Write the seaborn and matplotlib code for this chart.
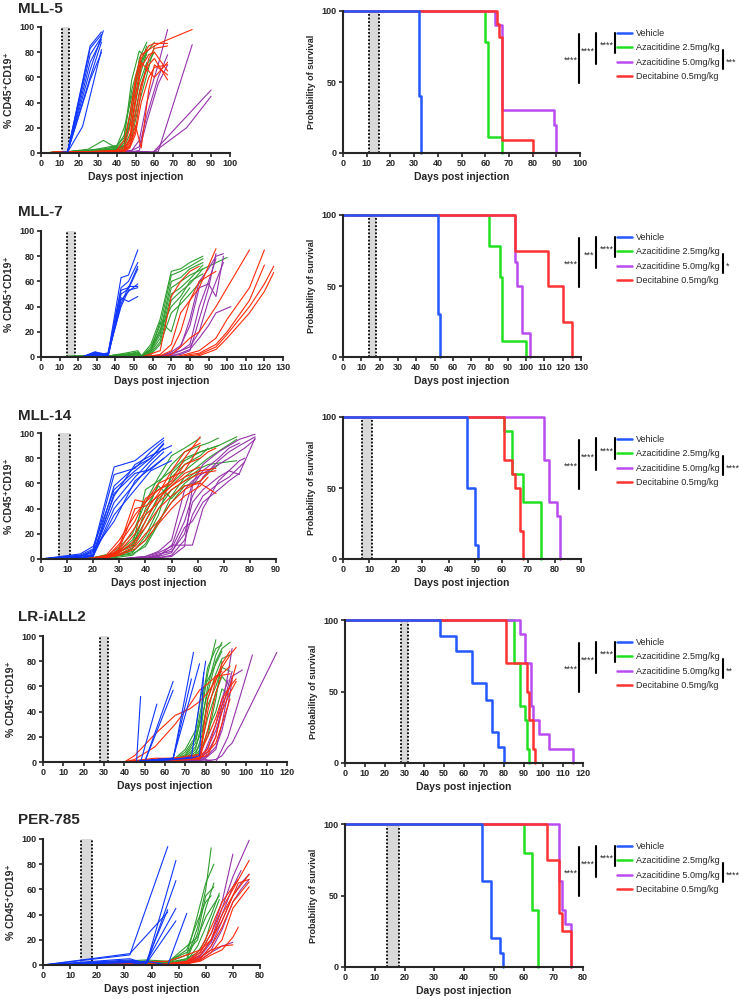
import numpy as np
import pandas as pd
import seaborn as sns
import matplotlib.pyplot as plt
from matplotlib.lines import Line2D

# ====================== GROUPS / COLOURS ======================
groups = ["Vehicle", "Azacitidine 2.5mg/kg", "Azacitidine 5.0mg/kg", "Decitabine 0.5mg/kg"]
line_colors = ["#1036FF", "#2E9E2E", "#9532AA", "#FF2A0A"]     # spaghetti plots
surv_colors = ["#2457FF", "#22E022", "#B94CF0", "#FF3333"]     # survival curves
draw_order = [groups[1], groups[2], groups[3], groups[0]]

# ====================== MLL-5 ======================
mll5_veh_days = [0, 14, 22, 26, 32, 33]
mll5_veh = [[0, 0.5, None, 85, 96], [0, 0.5, None, 83, 94], [0, 0.5, None, 78, 92],
            [0, 0.5, None, 72, 90], [0, 0.5, None, 66, None, 97], [0, 0.5, None, 60, 88],
            [0, 0.5, None, 58, 80], [0, 0.5, 21, None, 82]]
mll5_az25_days = [0, 14, 25, 33, 40, 44, 48, 52, 56, 60]
mll5_az25 = [[0, 1, 3, 10, 4, 6, 30, 75, 88], [0, 1, 2, 4, 6, 12, 58, 81, 75],
             [0, 1, 2, 3, 5, 20, 45, 68, 85], [0, 1, 2, 2, 3, 8, 35, 60, 80, 88],
             [0, 1, 1, 2, 4, 10, 25, 55, 72], [0, 1, 2, 3, 3, 5, 18, 48, 70, 80],
             [0, 1, 1, 2, 3, 6, 40, 65, 82], [0, 1, 2, 3, 5, 14, 50, 72, 78],
             [0, 1, 2, 2, 2, 4, 12, 40, 62, 85]]
mll5_az50_days = [0, 14, 25, 40, 48, 52, 56, 59, 62, 67, 77, 80, 90]
mll5_az50 = [[0, 0.5, 1, 1, 2, 10, 40, None, 70, 98], [0, 0.5, 1, 1, 2, 5, 30, None, 60, 78],
             [0, 0.5, 1, 1, 1, 2, 25, None, 55, 70],
             [0, 0.5, 1, 1, 1, 1, 1, 0, None, None, None, None, 50],
             [0, 0.5, 1, 1, 1, 1, 1, 0, None, None, 20, None, 45],
             [0, 0.5, 1, 1, 1, 1, 1, None, 1, None, None, 86]]
mll5_dec_days = [0, 14, 25, 40, 44, 47, 50, 53, 57, 60, 64, 67, 80]
mll5_dec = [[0, 1, 1, 2, 5, 20, 55, 75, 85, 87, None, 87], [0, 1, 1, 1, 3, 10, 40, 68, 78, 80, None, 65],
            [0, 1, 1, 1, 2, 8, 30, 55, 70, 75, None, 58], [0, 1, 1, 1, 2, 5, 22, 4, 50, 70, None, 62],
            [0, 1, 1, 2, 10, 30, 60, 78, 82, 85, 88, None, 98], [0, 1, 1, 1, 3, 12, 45, 72, 65, 60, None, 72],
            [0, 1, 1, 1, 2, 6, 18, 50, 75, 83, None, 85], [0, 1, 1, 1, 1, 4, 15, 40, 60, 68, None, 70]]

# ====================== MLL-7 ======================
mll7_veh_days = [0, 22, 29, 36, 43, 47, 52]
mll7_veh = [[0, 0, 4, 2, 63, 65, 85], [0, 0, 3, 1, 55, 60, 75], [0, 0, 2, 3, 53, 55, 72],
            [0, 0, 4, 0, 50, 54, 70], [0, 0, 1, 2, 45, 52, 58], [0, 0, 3, 1, 42, 56, 56],
            [0, 0, 2, 3, 40, 53, 55], [0, 0, 1, 0, 47, 44, 48]]
mll7_az25_days = [0, 37, 45, 52, 54, 59, 64, 70, 75, 80, 87, 100]
mll7_az25 = [[0, 1, 3, 5, 1, 10, 30, 68, 70, 75, 80], [0, 1, 2, 3, 0, 8, 25, 65, 68, 72, 78],
             [0, 1, 2, 4, 1, 6, 20, 60, 63, 70, 75], [0, 1, 2, 2, 0, 5, 18, 55, 60, 65, None, 79],
             [0, 1, 1, 2, 0, 4, 15, 50, 55, 62, 73], [0, 1, 2, 3, 1, 3, 12, 45, 52, 58, 70],
             [0, 1, 2, 3, 0, 6, 22, 40, 48, 60, 66], [0, 1, 1, 2, 0, 5, 28, 20, 45, 55],
             [0, 1, 1, 1, 0, 2, 10, 35, 42, 50, 62]]
mll7_az50_days = [0, 37, 54, 65, 70, 75, 80, 85, 90, 94, 98, 102]
mll7_az50 = [[0, 0, 0, 1, 2, 8, 30, 60, 70, 80, 82], [0, 0, 0, 1, 3, 5, 10, 40, 60, 78],
             [0, 0, 0, 0, 2, 5, 8, 20, 45, 60, 75], [0, 0, 0, 0, 1, 3, 6, 15, 25, 35, None, 40],
             [0, 0, 0, 1, 4, 9, 25, 55, 58, 48, 80], [0, 0, 0, 0, 1, 2, 5, 30, 55, 82]]
mll7_dec_days = [0, 37, 54, 64, 70, 75, 80, 85, 94, 100, 112, 120, 125]
mll7_dec = [[0, 0, 0, 5, 48, 60, 68, 72], [0, 0, 0, 2, 10, 35, 45, 55, 86],
            [0, 0, 0, 1, 5, 20, 45, 60, 68], [0, 0, 0, 0, 2, 8, 15, 20, 40, 55, 85],
            [0, 0, 0, 0, 0, 1, 3, 5, 15, 30, 55, 85], [0, 0, 0, 0, 0, 0, 2, 3, 10, 20, 45, 73],
            [0, 0, 0, 0, 0, 0, 1, 2, 8, 18, 40, 58, 72], [0, 0, 0, 0, 0, 0, 0, 1, 6, 15, 35, 52, 67]]

# ====================== MLL-14 ======================
mll14_veh_days = [0, 15, 20, 28, 36, 42, 47, 50]
mll14_veh = [[0, 3, 8, 73, 78, 88, 96], [0, 2, 6, 67, 72, 85, 94], [0, 4, 10, 55, 70, 80, 92],
             [0, 2, 5, 50, 75, 82, None, 90], [0, 1, 4, 45, 65, 78, 88], [0, 3, 2, 40, 60, 75, 85],
             [0, 1, 3, 35, 55, 70, None, 78], [0, 2, 7, 30, 62, 72, 80], [0, 1, 2, 52, 68, 71, None, 85],
             [0, 0, 3, 58, 73, 80, 91]]
mll14_az25_days = [0, 20, 28, 35, 40, 45, 50, 55, 61, 64, 68, 75]
mll14_az25 = [[0, 1, 5, 20, 45, 65, 82, 88, 96], [0, 1, 3, 15, 35, 60, 75, 85, 90, 92, 96],
              [0, 1, 4, 10, 55, 62, 70, 80, 85, None, 90, 97], [0, 1, 2, 8, 25, 45, 65, 75, 82, 88],
              [0, 1, 3, 12, 30, 50, 60, 70, 80], [0, 1, 2, 5, 18, 40, 55, 62, 72, 75, None, 78],
              [0, 1, 3, 6, 15, 35, 68, 78, 85, None, 90], [0, 1, 2, 4, 10, 28, 50, 65, 75, 80, None, 95],
              [0, 1, 2, 8, 40, 58, 48, 60, 70], [0, 1, 1, 3, 12, 30, 45, 58, 62, 68, 75]]
mll14_az50_days = [0, 30, 40, 45, 50, 55, 58, 62, 68, 72, 76, 78, 82]
mll14_az50 = [[0, 0, 2, 5, 10, 40, 60, 75, 85, 90, 95, None, 99],
              [0, 0, 1, 3, 8, 30, 50, 65, 78, 85, 90, None, 97],
              [0, 0, 1, 2, 11, 11, 11, 40, 62, 70, 78, 80],
              [0, 0, 1, 4, 6, 20, 45, 55, 65, 70, 67],
              [0, 0, 2, 6, 15, 55, 62, 68, 75, 80, None, 88, 95],
              [0, 0, 1, 1, 3, 15, 35, 50, 60, 65, None, 77],
              [0, 0, 1, 2, 5, 25, 30, 45, 55, 62, 68, None, 96],
              [0, 0, 0, 1, 2, 10, 58, 70, 80, 88, 92]]
mll14_dec_days = [0, 20, 25, 30, 36, 40, 45, 50, 55, 61, 64, 67]
mll14_dec = [[0, 0, 2, 10, 47, 45, 55, 62, 80, 97], [0, 0, 1, 8, 40, 42, 50, 58, 65, 70, None, 72],
             [0, 0, 1, 12, 30, 48, 55, 60, 75, 80, 85, 88], [0, 0, 2, 6, 20, 35, 45, 55, 62, 68, None, 70],
             [0, 0, 1, 5, 15, 25, 40, 50, 58, 60, None, 52], [0, 1, 3, 15, 35, 45, 60, 65, 70, 90],
             [0, 0, 1, 4, 10, 20, 30, 45, 55, 62, 68], [0, 0, 2, 7, 25, 38, 52, 70, 85, 92],
             [0, 0, 1, 3, 8, 15, 28, 40, 50, 58, 65], [0, 0, 1, 6, 12, 30, 48, 58, 68, 73]]

# ====================== LR-iALL2 ======================
lr_veh_days = [4, 40, 46, 48, 50, 56, 64, 73, 74, 77, 79, 80]
lr_veh = [[0, 0, 0, 52], [0, 0, None, 0, None, 46], [0, 0, None, None, 0, None, 64],
          [0, 0, None, None, 0, None, 57], [0, 0, 0, 1, 1, 2, 2, None, 87],
          [0, 0, 0, 1, 1, 2, 3, 66], [0, 0, 0, 1, 1, 2, 3, None, None, 78],
          [0, 0, 0, 0, 1, 1, 2, 4, None, None, None, 80], [0, 0, 0, 0, 1, 1, 2, 3, None, 5, 71]]
lr_az25_days = [4, 40, 60, 65, 70, 75, 78, 81, 85, 88, 92]
lr_az25 = [[0, 0, 1, 2, 5, 15, 40, 70, 97], [0, 0, 1, 2, 3, 10, 30, 60, 85, 95],
           [0, 0, 1, 2, 8, 20, 45, 75, 90, 93], [0, 0, 1, 1, 3, 6, 20, 50, 70, 82, 85],
           [0, 0, 1, 3, 10, 25, 55, 65, 78, 88], [0, 0, 1, 2, 4, 12, 25, 45, 60, 75, 72],
           [0, 0, 1, 1, 2, 8, 15, 35, 55, 68, 60], [0, 0, 1, 2, 6, 18, 35, 55, 80, 90, 95],
           [0, 0, 1, 1, 2, 4, 10, 25, 40, 58, 53], [0, 0, 1, 2, 3, 5, 12, 20, 50, 80]]
lr_az50_days = [4, 40, 70, 77, 80, 85, 88, 91, 93, 98, 103, 115]
lr_az50 = [[0, 0, 1, 2, 10, 30, 50, 65], [0, 0, 1, 2, 5, 20, 45, 70, 90],
           [0, 0, 1, 1, 3, 10, 30, 55, 68, 73], [0, 0, 0, 1, 2, 0, 10, 20, None, None, 85],
           [0, 0, 0, 0, 1, 2, 5, 12, 15, None, None, 87], [0, 0, 1, 2, 8, 25, 40, 60, 72],
           [0, 0, 1, 1, 4, 12, 25, 45, 65]]
lr_dec_days = [4, 40, 45, 55, 65, 72, 77, 81, 85, 88, 92, 95]
lr_dec = [[0, 0, 5, 22, 37, 42, 48, 55, 65, 75, 85, 91], [0, 0, 2, 12, 30, 45, 57, 62, 68, None, 70],
          [0, 0, 1, 3, 3, 4, 3, 40, 65, 78, 88], [0, 0, 1, 2, 3, 3, 2, 25, 55, 70, 76],
          [0, 0, 0, 2, 3, 5, 6, 20, 35, 50, 60, 77], [0, 0, 1, 2, 3, 4, 5, 10, 30, 45, 60, 66],
          [0, 0, 0, 1, 2, 3, 4, 5, 20, 40, 55, 64], [0, 0, 0, 1, 2, 2, 3, 50, 68, 72],
          [0, 0, 0, 1, 1, 2, 3, 8, 15, 30, 50]]

# ====================== PER-785 ======================
per_veh_days = [0, 32, 38, 46, 49, 53]
per_veh = [[0, 8, None, 94], [0, 2, 0, None, 83], [0, 3, 0, None, 67], [0, 9, None, 42],
           [0, 4, 2, None, 45], [0, 5, 1, None, 35], [0, 2, 3, 0, None, 41], [0, 3, 2, 44]]
per_az25_days = [0, 38, 46, 53, 57, 60, 62, 63, 65]
per_az25 = [[0, 3, 2, 5, 30, 60, 93], [0, 2, 2, 8, 40, 65, None, 80], [0, 4, 3, 10, 20, 45, None, 65],
            [0, 2, 1, 3, 15, 30, 40, None, 57], [0, 3, 2, 12, 35, 50, 55],
            [0, 2, 1, 5, 10, 20, 35, None, 52], [0, 1, 1, 4, 25, 55, None, 62],
            [0, 2, 2, 15, 22, 38, 45, None, 55]]
per_az50_days = [0, 46, 53, 58, 62, 66, 70, 73, 76]
per_az50 = [[0, 1, 2, 8, 20, 45, 70, None, 99], [0, 1, 3, 10, 25, 50, 88],
            [0, 0, 1, 5, 15, 35, 55, 65, 72], [0, 1, 2, 7, 18, 40, 62, 75],
            [0, 0, 1, 6, 12, 28, 50, 60, 68], [0, 1, 1, 4, 10, 15, 18]]
per_dec_days = [0, 46, 53, 58, 62, 66, 70, 72, 76]
per_dec = [[0, 1, 2, 10, 25, 45, 60, None, 83], [0, 1, 2, 8, 20, 35, 55, 65, 68],
           [0, 0, 1, 5, 15, 30, 50, None, 66], [0, 1, 3, 12, 30, 50, 62, 68],
           [0, 0, 1, 3, 8, 12, 22, 30], [0, 1, 2, 6, 12, 15, 16],
           [0, 3, 8, 12, 20, 40, 55, None, 72], [0, 0, 1, 4, 10, 20, 45, None, 62]]

# ====================== SURVIVAL (day, % surviving) ======================
mll5_surv_days = [[0, 32, 33], [0, 60, 61, 67], [0, 64, 67, 89, 90], [0, 65, 66, 67, 80]]
mll5_surv = [[100, 40, 0], [100, 78, 11, 0], [100, 90, 30, 20, 0], [100, 91, 82, 9, 0]]
mll7_surv_days = [[0, 52, 53], [0, 80, 86, 87, 100], [0, 94, 95, 98, 102], [0, 94, 112, 120, 125]]
mll7_surv = [[100, 30, 0], [100, 78, 56, 11, 0], [100, 67, 50, 17, 0], [100, 75, 50, 25, 0]]
mll14_surv_days = [[0, 47, 50, 51], [0, 61, 64, 68, 75], [0, 76, 78, 81, 82], [0, 61, 64, 65, 67, 68]]
mll14_surv = [[100, 50, 10, 0], [100, 90, 60, 40, 0], [100, 70, 40, 30, 0], [100, 70, 60, 50, 20, 0]]
lr_surv_days = [[0, 48, 56, 64, 71, 74, 77, 80], [0, 85, 88, 91, 92, 93],
                [0, 88, 91, 94, 95, 98, 103, 115], [0, 81, 92, 93, 95, 96]]
lr_surv = [[100, 89, 78, 56, 44, 22, 11, 0], [100, 70, 40, 30, 10, 0],
           [100, 90, 70, 40, 30, 20, 10, 0], [100, 70, 50, 30, 10, 0]]
per_surv_days = [[0, 46, 49, 52, 53], [0, 60, 63, 65], [0, 72, 73, 74, 76], [0, 68, 72, 73, 76]]
per_surv = [[100, 60, 20, 10, 0], [100, 80, 40, 0], [100, 60, 40, 30, 0], [100, 75, 37.5, 25, 0]]

# significance: veh vs dec, veh vs aza5.0, veh vs aza2.5, aza2.5 vs aza5.0
mll5_stars = ["****", "****", "****", "***"]
mll7_stars = ["****", "***", "****", "*"]
mll14_stars = ["****", "****", "****", "****"]
lr_stars = ["****", "****", "****", "**"]
per_stars = ["****", "****", "****", "****"]

titles = ["MLL-5", "MLL-7", "MLL-14", "LR-iALL2", "PER-785"]
x_max = [100, 130, 90, 120, 80]
treat = [(11, 15), (14, 18), (7, 11), (28, 32), (14, 18)]

# ====================== LAYOUT (pixels of a 739x999 canvas) ======================
W, H = 739, 999
left_box = [(41, 230, 27, 153), (41, 283, 231, 357), (41, 276, 433, 559), (43, 287, 636, 762), (43, 260, 839, 965)]
right_box = [(343, 580, 11, 153), (343, 581, 215, 357), (343, 581, 417, 559), (345, 583, 620, 763), (345, 583, 824, 967)]
title_y = [12.7, 216, 420, 620.7, 824.3]


def fx(x):
    return x / W


def fy(y):
    return 1 - y / H


def add_axes_px(fig, box):
    l, r, t, b = box
    return fig.add_axes([fx(l), fy(b), (r - l) / W, (b - t) / H])


def spaghetti_frame(spec):
    rows = []
    for group, days, mice in spec:
        for i, vals in enumerate(mice):
            for d, v in zip(days, vals):
                if v is not None:
                    rows.append((group, f"{group}-{i}", d, v))
    return pd.DataFrame(rows, columns=["group", "mouse", "day", "pct"])


def survival_frame(day_lists, surv_lists):
    rows = []
    for group, days, vals in zip(groups, day_lists, surv_lists):
        for d, v in zip(days, vals):
            rows.append((group, d, v))
    return pd.DataFrame(rows, columns=["group", "day", "surv"])


def style_axis(ax, xmax, yticks):
    ax.set_xlim(0, xmax)
    ax.set_ylim(0, 100)
    ax.set_xticks(np.arange(0, xmax + 1, 10))
    ax.set_yticks(yticks)
    sns.despine(ax=ax)
    for s in ["left", "bottom"]:
        ax.spines[s].set_linewidth(1.5)
    ax.tick_params(labelsize=6.5, width=1.2, length=3, pad=1.5)
    for lab in ax.get_xticklabels() + ax.get_yticklabels():
        lab.set_fontweight("bold")
    for ln in ax.lines:
        ln.set_clip_on(False)


def treatment_window(ax, start, end):
    ax.axvspan(start, end, color="#d9d9d9", lw=0, zorder=0)
    for d in (start, end):
        ax.axvline(d, color="black", lw=1.3, ls=(0, (1, 1)), zorder=1)


# ====================== PLOT ======================
sns.set_style("ticks")
plt.rcParams["font.family"] = ["Liberation Sans", "DejaVu Sans"]

fig = plt.figure(figsize=(W / 100, H / 100), dpi=100)

spaghetti = [
    [(groups[0], mll5_veh_days, mll5_veh), (groups[1], mll5_az25_days, mll5_az25),
     (groups[2], mll5_az50_days, mll5_az50), (groups[3], mll5_dec_days, mll5_dec)],
    [(groups[0], mll7_veh_days, mll7_veh), (groups[1], mll7_az25_days, mll7_az25),
     (groups[2], mll7_az50_days, mll7_az50), (groups[3], mll7_dec_days, mll7_dec)],
    [(groups[0], mll14_veh_days, mll14_veh), (groups[1], mll14_az25_days, mll14_az25),
     (groups[2], mll14_az50_days, mll14_az50), (groups[3], mll14_dec_days, mll14_dec)],
    [(groups[0], lr_veh_days, lr_veh), (groups[1], lr_az25_days, lr_az25),
     (groups[2], lr_az50_days, lr_az50), (groups[3], lr_dec_days, lr_dec)],
    [(groups[0], per_veh_days, per_veh), (groups[1], per_az25_days, per_az25),
     (groups[2], per_az50_days, per_az50), (groups[3], per_dec_days, per_dec)],
]
survival = [(mll5_surv_days, mll5_surv), (mll7_surv_days, mll7_surv), (mll14_surv_days, mll14_surv),
            (lr_surv_days, lr_surv), (per_surv_days, per_surv)]
stars = [mll5_stars, mll7_stars, mll14_stars, lr_stars, per_stars]

line_pal = dict(zip(groups, line_colors))
surv_pal = dict(zip(groups, surv_colors))

for k in range(5):
    # ---- engraftment (left) ----
    ax = add_axes_px(fig, left_box[k])
    treatment_window(ax, *treat[k])
    df = spaghetti_frame(spaghetti[k])
    sns.lineplot(data=df, x="day", y="pct", hue="group", hue_order=draw_order, units="mouse",
                 estimator=None, sort=False, palette=line_pal, lw=0.8, legend=False, ax=ax)
    style_axis(ax, x_max[k], np.arange(0, 101, 20))
    ax.set_xlabel("Days post injection", fontsize=7.5, fontweight="bold", labelpad=3)
    ax.set_ylabel("% CD45\u207aCD19\u207a", fontsize=7.5, fontweight="bold", labelpad=4)
    fig.text(fx(18), fy(title_y[k]), titles[k], fontsize=11, fontweight="bold", va="baseline")

    # ---- survival (right) ----
    ax2 = add_axes_px(fig, right_box[k])
    treatment_window(ax2, *treat[k])
    sdf = survival_frame(*survival[k])
    sns.lineplot(data=sdf, x="day", y="surv", hue="group", hue_order=draw_order, estimator=None,
                 sort=False, palette=surv_pal, lw=1.8, drawstyle="steps-post", legend=False, ax=ax2)
    style_axis(ax2, x_max[k], [0, 50, 100])
    ax2.set_xlabel("Days post injection", fontsize=7.5, fontweight="bold", labelpad=3)
    ax2.set_ylabel("Probability of survival", fontsize=6.5, fontweight="bold", labelpad=4)

    # legend + significance brackets
    yv = right_box[k][2] + 23.5
    sp = 15.6
    handles = [Line2D([], [], color=c, lw=1.8) for c in surv_colors]
    fig.legend(handles, groups, loc="upper left", bbox_to_anchor=(fx(617), fy(yv - 5.6)),
               frameon=False, fontsize=6.5, handlelength=1.65, handletextpad=0.45,
               labelspacing=0.6, borderpad=0, borderaxespad=0)
    rows = [yv + i * sp for i in range(4)]
    brackets = [(579, rows[0] - 1, rows[3] + 1.5), (596, rows[0] - 2, rows[2] - 1.5),
                (615, rows[0] - 2, rows[1] + 3)]
    for (bx, y1, y2), s in zip(brackets, stars[k][:3]):
        fig.add_artist(Line2D([fx(bx)] * 2, [fy(y1), fy(y2)], color="black", lw=1.5))
        fig.text(fx(bx - 1.5), fy((y1 + y2) / 2 + 2.5), s, fontsize=6.5, ha="right", va="center")
    fig.add_artist(Line2D([fx(723)] * 2, [fy(rows[1]), fy(rows[2] + 3)], color="black", lw=1.5))
    fig.text(fx(725.5), fy((rows[1] + rows[2] + 3) / 2 + 2.5), stars[k][3], fontsize=6.5,
             ha="left", va="center")

fig.savefig("out.png", dpi=100)
